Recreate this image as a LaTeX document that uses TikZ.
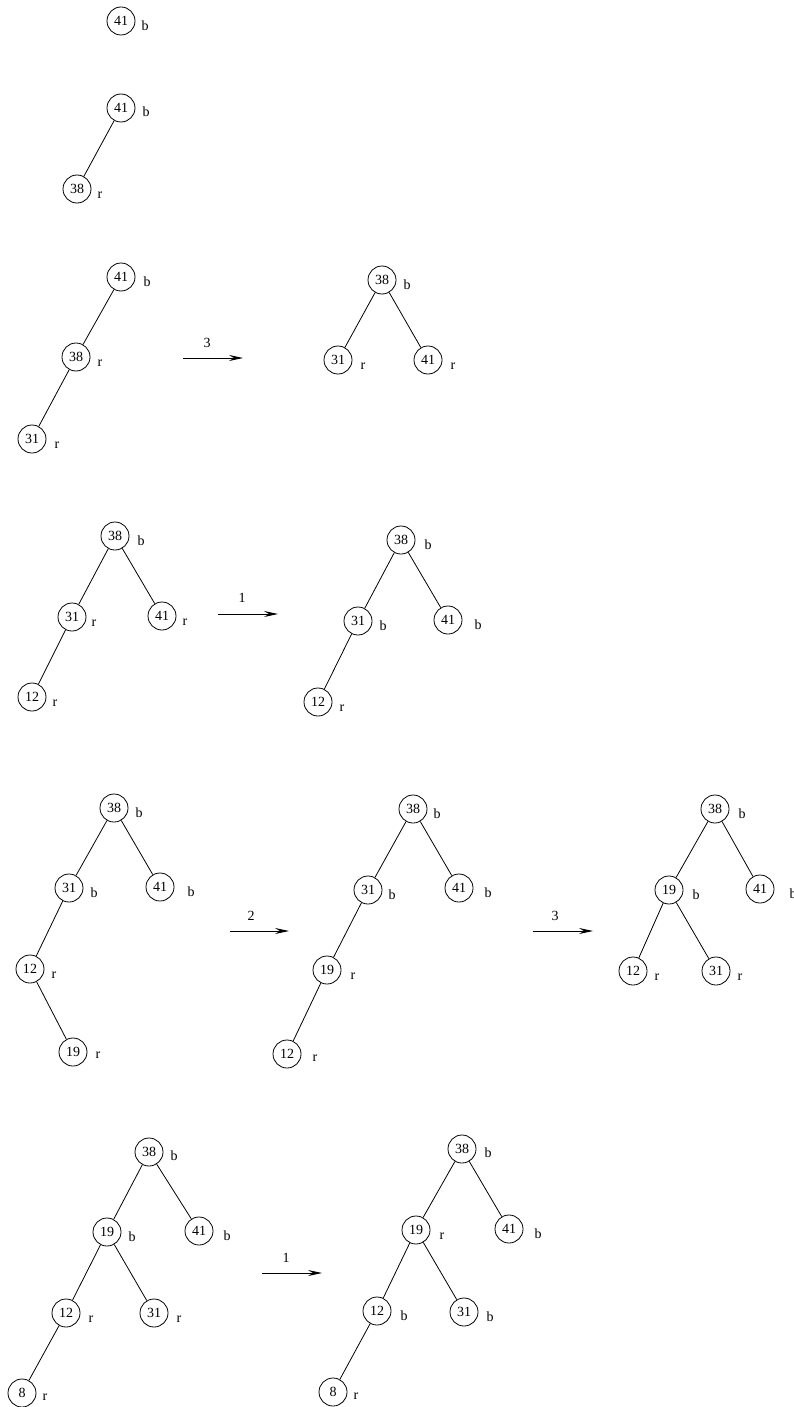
\documentclass[tikz,border=0pt]{standalone}
\usepackage{fontspec}
\setmainfont{Liberation Serif}
\usetikzlibrary{arrows.meta}
\tikzset{
  key/.style={draw, circle, minimum size=28pt, inner sep=0pt, line width=0.8pt, font=\fontsize{14}{16}\selectfont},
  lbl/.style={anchor=base, inner sep=0pt, font=\fontsize{14}{16}\selectfont},
  edge/.style={line width=0.8pt},
  arr/.style={line width=0.8pt, -{Stealth[length=14pt,width=6pt,inset=5pt]}},
  albl/.style={anchor=base, inner sep=0pt, font=\fontsize{14}{16}\selectfont}
}
\begin{document}
\begin{tikzpicture}[x=1pt,y=-1pt]
\useasboundingbox (0,0) rectangle (793,1407);
% ---------- tree 1
\node[key] (t1n41) at (121,21) {41}; \node[lbl] (t1l41) at (145,31) {b};
% ---------- tree 2
\node[key] (t2n41) at (121,108) {41}; \node[lbl] (t2l41) at (146,117) {b};
\node[key] (t2n38) at (77,189) {38};  \node[lbl] (t2l38) at (100,198) {r};
\draw[edge] (t2n41) -- (t2n38);
% ---------- tree 3
\node[key] (t3n41) at (121,277) {41}; \node[lbl] (t3l41) at (147,286) {b};
\node[key] (t3n38) at (76,357) {38};  \node[lbl] (t3l38) at (100,366) {r};
\node[key] (t3n31) at (32,439) {31};  \node[lbl] (t3l31) at (57,448) {r};
\draw[edge] (t3n41) -- (t3n38) (t3n38) -- (t3n31);
% arrow 1
\coordinate (a1s) at (183,358); \coordinate (a1e) at (243,358);
\draw[arr] (a1s) -- (a1e);
\node[albl] (a1l) at (207,347) {3};
% ---------- tree 4
\node[key] (t4n38) at (382,280) {38}; \node[lbl] (t4l38) at (407,289) {b};
\node[key] (t4n31) at (338,360) {31}; \node[lbl] (t4l31) at (363,369) {r};
\node[key] (t4n41) at (428,360) {41}; \node[lbl] (t4l41) at (453,369) {r};
\draw[edge] (t4n38) -- (t4n31) (t4n38) -- (t4n41);
% ---------- tree 5
\node[key] (t5n38) at (115,536) {38}; \node[lbl] (t5l38) at (141,545) {b};
\node[key] (t5n31) at (72,617) {31};  \node[lbl] (t5l31) at (94,626) {r};
\node[key] (t5n41) at (162,616) {41}; \node[lbl] (t5l41) at (185,625) {r};
\node[key] (t5n12) at (32,697) {12};  \node[lbl] (t5l12) at (55,706) {r};
\draw[edge] (t5n38) -- (t5n31) (t5n38) -- (t5n41) (t5n31) -- (t5n12);
% arrow 2
\coordinate (a2s) at (218,614); \coordinate (a2e) at (278,614);
\draw[arr] (a2s) -- (a2e);
\node[albl] (a2l) at (242,602) {1};
% ---------- tree 6
\node[key] (t6n38) at (401,540) {38}; \node[lbl] (t6l38) at (428,549) {b};
\node[key] (t6n31) at (358,621) {31}; \node[lbl] (t6l31) at (383,630) {b};
\node[key] (t6n41) at (448,620) {41}; \node[lbl] (t6l41) at (478,629) {b};
\node[key] (t6n12) at (318,702) {12}; \node[lbl] (t6l12) at (342,711) {r};
\draw[edge] (t6n38) -- (t6n31) (t6n38) -- (t6n41) (t6n31) -- (t6n12);
% ---------- tree 7
\node[key] (t7n38) at (114,808) {38}; \node[lbl] (t7l38) at (139,817) {b};
\node[key] (t7n31) at (69,888) {31};  \node[lbl] (t7l31) at (94,897) {b};
\node[key] (t7n41) at (160,887) {41}; \node[lbl] (t7l41) at (191,896) {b};
\node[key] (t7n12) at (30,969) {12};  \node[lbl] (t7l12) at (54,978) {r};
\node[key] (t7n19) at (73,1052) {19}; \node[lbl] (t7l19) at (98,1058) {r};
\draw[edge] (t7n38) -- (t7n31) (t7n38) -- (t7n41) (t7n31) -- (t7n12) (t7n12) -- (t7n19);
% arrow 3
\coordinate (a3s) at (230,931); \coordinate (a3e) at (289,931);
\draw[arr] (a3s) -- (a3e);
\node[albl] (a3l) at (251,920) {2};
% ---------- tree 8
\node[key] (t8n38) at (413,809) {38}; \node[lbl] (t8l38) at (437,818) {b};
\node[key] (t8n31) at (368,890) {31}; \node[lbl] (t8l31) at (392,899) {b};
\node[key] (t8n41) at (459,888) {41}; \node[lbl] (t8l41) at (488,897) {b};
\node[key] (t8n19) at (327,970) {19}; \node[lbl] (t8l19) at (353,979) {r};
\node[key] (t8n12) at (287,1054) {12}; \node[lbl] (t8l12) at (315,1061) {r};
\draw[edge] (t8n38) -- (t8n31) (t8n38) -- (t8n41) (t8n31) -- (t8n19) (t8n19) -- (t8n12);
% arrow 4
\coordinate (a4s) at (533,931); \coordinate (a4e) at (593,931);
\draw[arr] (a4s) -- (a4e);
\node[albl] (a4l) at (555,920) {3};
% ---------- tree 9
\node[key] (t9n38) at (715,809) {38}; \node[lbl] (t9l38) at (742,818) {b};
\node[key] (t9n19) at (669,890) {19}; \node[lbl] (t9l19) at (696,899) {b};
\node[key] (t9n41) at (760,889) {41}; \node[lbl] (t9l41) at (793,898) {b};
\node[key] (t9n12) at (633,971) {12}; \node[lbl] (t9l12) at (657,980) {r};
\node[key] (t9n31) at (716,971) {31}; \node[lbl] (t9l31) at (740,980) {r};
\draw[edge] (t9n38) -- (t9n19) (t9n38) -- (t9n41) (t9n19) -- (t9n12) (t9n19) -- (t9n31);
% ---------- tree 10
\node[key] (t10n38) at (149,1152) {38}; \node[lbl] (t10l38) at (174,1160) {b};
\node[key] (t10n19) at (107,1232) {19}; \node[lbl] (t10l19) at (132,1241) {b};
\node[key] (t10n41) at (199,1231) {41}; \node[lbl] (t10l41) at (227,1240) {b};
\node[key] (t10n12) at (66,1313) {12};  \node[lbl] (t10l12) at (91,1322) {r};
\node[key] (t10n31) at (154,1313) {31}; \node[lbl] (t10l31) at (179,1322) {r};
\node[key] (t10n8) at (22,1393) {8};    \node[lbl] (t10l8) at (45,1400) {r};
\draw[edge] (t10n38) -- (t10n19) (t10n38) -- (t10n41) (t10n19) -- (t10n12) (t10n19) -- (t10n31) (t10n12) -- (t10n8);
% arrow 5
\coordinate (a5s) at (262,1273); \coordinate (a5e) at (322,1273);
\draw[arr] (a5s) -- (a5e);
\node[albl] (a5l) at (286,1262) {1};
% ---------- tree 11
\node[key] (t11n38) at (462,1149) {38}; \node[lbl] (t11l38) at (488,1157) {b};
\node[key] (t11n19) at (416,1230) {19}; \node[lbl] (t11l19) at (442,1239) {r};
\node[key] (t11n41) at (509,1229) {41}; \node[lbl] (t11l41) at (538,1238) {b};
\node[key] (t11n12) at (377,1311) {12}; \node[lbl] (t11l12) at (404,1320) {b};
\node[key] (t11n31) at (464,1312) {31}; \node[lbl] (t11l31) at (490,1321) {b};
\node[key] (t11n8) at (333,1392) {8};   \node[lbl] (t11l8) at (356,1399) {r};
\draw[edge] (t11n38) -- (t11n19) (t11n38) -- (t11n41) (t11n19) -- (t11n12) (t11n19) -- (t11n31) (t11n12) -- (t11n8);
\end{tikzpicture}
\end{document}
